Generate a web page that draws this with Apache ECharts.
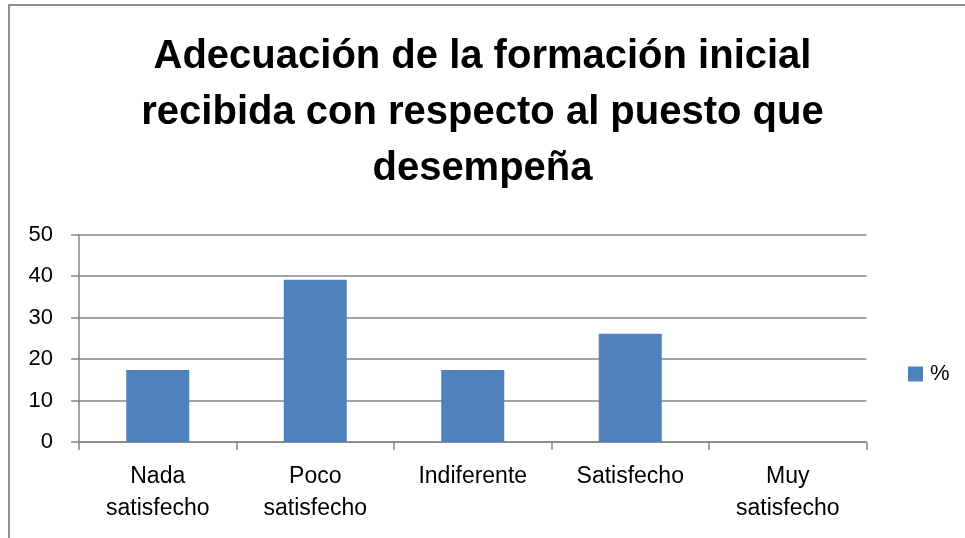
<!DOCTYPE html>
<html>
<head>
<meta charset="utf-8">
<script src="https://cdn.jsdelivr.net/npm/echarts@6/dist/echarts.min.js"></script>
<style>
html,body{margin:0;padding:0;background:#fff;}
#chart{width:965px;height:538px;}
</style>
</head>
<body>
<div id="chart"></div>
<script>
var titleText = 'Adecuación de la formación inicial\nrecibida con respecto al puesto que\ndesempeña';
var categories = ['Nada satisfecho', 'Poco satisfecho', 'Indiferente', 'Satisfecho', 'Muy satisfecho'];
var seriesName = '%';
var values = [17.39, 39.13, 17.39, 26.09, 0];
var yTicks = [0, 10, 20, 30, 40, 50];

var FONT = '"Liberation Sans", Arial, sans-serif';
var chart = echarts.init(document.getElementById('chart'), null, {renderer: 'canvas'});
chart.setOption({
  animation: false,
  backgroundColor: '#ffffff',
  graphic: [{
    type: 'rect', silent: true, z: 100,
    shape: {x: 9, y: 5, width: 1000, height: 600},
    style: {fill: 'none', stroke: '#8e8e8e', lineWidth: 2}
  }],
  title: {
    text: titleText,
    left: 'center',
    top: 24,
    textStyle: {fontFamily: FONT, fontWeight: 'bold', fontSize: 40, lineHeight: 56, color: '#000'}
  },
  legend: {
    data: [seriesName],
    left: 903,
    top: 358,
    itemWidth: 15,
    itemHeight: 15,
    itemGap: 10,
    icon: 'rect',
    textStyle: {fontFamily: FONT, fontSize: 22, color: '#000', padding: [0,0,0,2]}
  },
  grid: {left: 79, right: 98.5, top: 234.7, bottom: 96, containLabel: false},
  xAxis: {
    type: 'category',
    data: categories,
    axisLine: {lineStyle: {color: '#868686', width: 1.5}},
    axisTick: {show: true, length: 8, alignWithLabel: false, lineStyle: {color: '#868686', width: 1.5}},
    axisLabel: {
      interval: 0,
      margin: 19,
      fontFamily: FONT, fontSize: 23, lineHeight: 32, color: '#000',
      formatter: function (v) { return v.replace(' ', '\n'); }
    },
    splitLine: {show: false}
  },
  yAxis: {
    type: 'value',
    min: yTicks[0],
    max: yTicks[yTicks.length - 1],
    interval: yTicks[1] - yTicks[0],
    axisLine: {show: true, lineStyle: {color: '#868686', width: 1.5}},
    axisTick: {show: true, length: 8, lineStyle: {color: '#868686', width: 1.5}},
    axisLabel: {margin: 26, fontFamily: FONT, fontSize: 22, color: '#000'},
    splitLine: {show: true, lineStyle: {color: '#868686', width: 1.5}}
  },
  series: [{
    name: seriesName,
    type: 'bar',
    data: values,
    barCategoryGap: '60%',
    itemStyle: {color: '#4f81bd'}
  }]
});
</script>
</body>
</html>
